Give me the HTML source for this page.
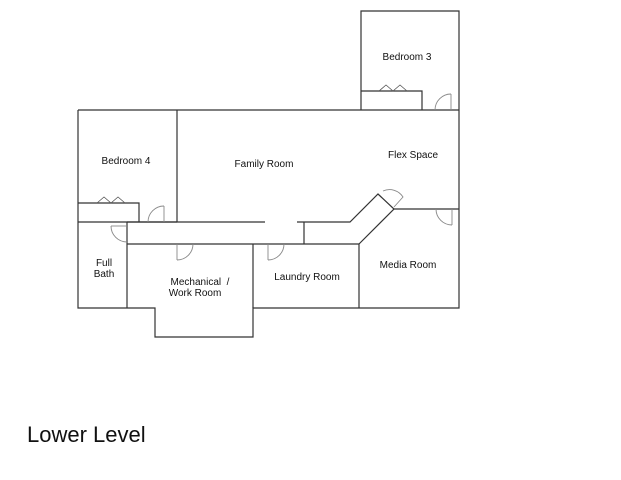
<!DOCTYPE html>
<html><head><meta charset="utf-8"><style>
html,body{margin:0;padding:0;background:#fff;width:621px;height:480px;overflow:hidden}
svg{display:block}
text{font-family:"Liberation Sans",sans-serif;fill:#111}
</style></head><body>
<svg width="621" height="480" viewBox="0 0 621 480" xmlns="http://www.w3.org/2000/svg">
<g fill="none" stroke="#333" stroke-width="1.2">
<polyline points="361,110 361,11 459,11 459,308 359,308"/>
<polyline points="78,110 459,110"/>
<polyline points="78,110 78,308 127,308"/>
<polyline points="127,308 155,308 155,337 253,337 253,308 359,308"/>
<line x1="177" y1="110" x2="177" y2="222"/>
<polyline points="78,203 139,203 139,222"/>
<line x1="78" y1="222" x2="177" y2="222"/>
<line x1="127" y1="222" x2="265" y2="222"/>
<polyline points="297,222 350,222 378,194 394,209 359,244"/>
<line x1="304" y1="222" x2="304" y2="244"/>
<line x1="127" y1="222" x2="127" y2="308"/>
<line x1="127" y1="244" x2="359" y2="244"/>
<line x1="253" y1="244" x2="253" y2="308"/>
<line x1="359" y1="244" x2="359" y2="308"/>
<line x1="394" y1="209" x2="459" y2="209"/>
<polyline points="361,91 422,91 422,110"/>
</g>
<g fill="none" stroke="#555" stroke-width="0.8">
<polyline points="97,203 104,197 111,203 118,197 125,203"/>
<polyline points="379,91 386,85 393,91 400,85 407,91"/>
</g>
<g fill="none" stroke="#888" stroke-width="0.9">
<line x1="451" y1="110" x2="451" y2="94"/><path d="M435,110 A16,16 0 0 1 451,94"/>
<line x1="452" y1="209" x2="452" y2="225"/><path d="M436,209 A16,16 0 0 0 452,225"/>
<line x1="164" y1="222" x2="164" y2="206"/><path d="M148,222 A16,16 0 0 1 164,206"/>
<line x1="111" y1="226" x2="127" y2="226"/><path d="M111,226 A16,16 0 0 0 127,242"/>
<line x1="177" y1="244" x2="177" y2="260"/><path d="M177,260 A16,16 0 0 0 193,244"/>
<line x1="268" y1="244" x2="268" y2="260"/><path d="M268,260 A16,16 0 0 0 284,244"/>
<path d="M383,191 A16,16 0 0 1 403,197 L394,207"/>
</g>
<g font-size="10">
<text x="407" y="60" text-anchor="middle">Bedroom 3</text>
<text x="126" y="164" text-anchor="middle">Bedroom 4</text>
<text x="264" y="167" text-anchor="middle">Family Room</text>
<text x="413" y="158" text-anchor="middle">Flex Space</text>
<text x="104" y="266" text-anchor="middle">Full</text>
<text x="104" y="277" text-anchor="middle">Bath</text>
<text x="200" y="285" text-anchor="middle">Mechanical&#160; /</text>
<text x="195" y="296" text-anchor="middle">Work Room</text>
<text x="307" y="280" text-anchor="middle">Laundry Room</text>
<text x="408" y="268" text-anchor="middle">Media Room</text>
</g>
<text x="27" y="442" font-size="22">Lower Level</text>
</svg>
</body></html>
